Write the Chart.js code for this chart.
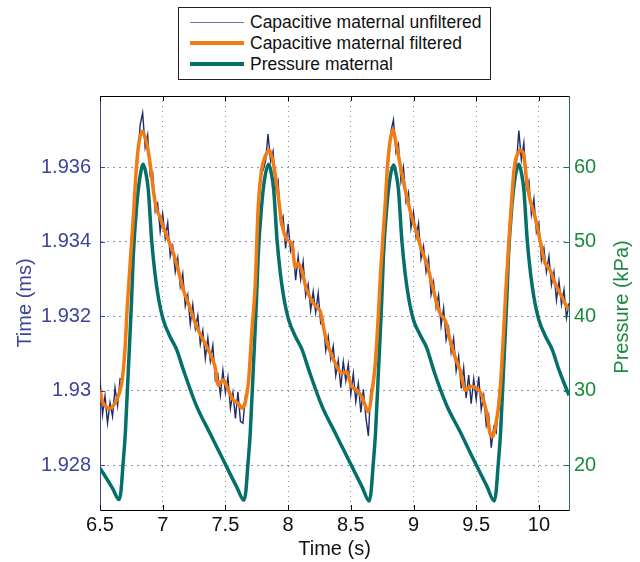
<!DOCTYPE html>
<html>
<head>
<meta charset="utf-8">
<script src="https://cdn.jsdelivr.net/npm/chart.js@4.4.0/dist/chart.umd.min.js"></script>
<style>
  body { margin: 0; background: #fff; }
  #wrap { position: relative; width: 640px; height: 562px; }
  #legend {
    position: absolute; left: 178px; top: 7px; width: 311px; height: 71px;
    border: 1px solid #222; background: #fff;
    font-family: "Liberation Sans", Arial, sans-serif; font-size: 17.5px; color: #111;
  }
  .row { position: absolute; left: 0; right: 0; height: 21px; }
  .swatch { position: absolute; left: 11px; width: 54px; top: 50%; }
  .lbl { position: absolute; left: 71px; top: 0; line-height: 21px; white-space: nowrap; }
</style>
</head>
<body>
<div id="wrap">
  <canvas id="chart" width="640" height="562"></canvas>
  <div id="legend"></div>
</div>
<script>
// unfiltered capacitive signal, sampled every 0.02 s from 6.5 s
const rawStart = 6.5;
const rawStep = 0.02;
const rawCap = [
  1.93032, 1.92936, 1.92986, 1.92913, 1.92968, 1.92931, 1.93008, 1.92960, 1.93032, 1.93029,
  1.93123, 1.93232, 1.93351, 1.93428, 1.93557, 1.93618, 1.93713, 1.93746, 1.93653, 1.93686,
  1.93578, 1.93586, 1.93482, 1.93502, 1.93427, 1.93475, 1.93409, 1.93451, 1.93361, 1.93388,
  1.93319, 1.93356, 1.93280, 1.93314, 1.93227, 1.93257, 1.93178, 1.93231, 1.93167, 1.93202,
  1.93125, 1.93162, 1.93087, 1.93142, 1.93080, 1.93122, 1.93029, 1.93044, 1.92988, 1.93055,
  1.92995, 1.93037, 1.92953, 1.92995, 1.92926, 1.92997, 1.92918, 1.92913, 1.92989, 1.92999,
  1.93112, 1.93191, 1.93317, 1.93468, 1.93575, 1.93592, 1.93615, 1.93689, 1.93617, 1.93643,
  1.93543, 1.93564, 1.93451, 1.93468, 1.93382, 1.93448, 1.93375, 1.93396, 1.93297, 1.93360,
  1.93299, 1.93346, 1.93255, 1.93286, 1.93216, 1.93266, 1.93210, 1.93262, 1.93181, 1.93189,
  1.93108, 1.93146, 1.93085, 1.93120, 1.93041, 1.93082, 1.93008, 1.93078, 1.93027, 1.93071,
  1.92991, 1.93046, 1.92971, 1.93019, 1.92942, 1.93004, 1.92929, 1.92879, 1.93003, 1.93014,
  1.93109, 1.93198, 1.93342, 1.93417, 1.93545, 1.93615, 1.93696, 1.93727, 1.93640, 1.93661,
  1.93562, 1.93600, 1.93507, 1.93532, 1.93437, 1.93479, 1.93412, 1.93449, 1.93354, 1.93388,
  1.93319, 1.93355, 1.93258, 1.93292, 1.93224, 1.93257, 1.93174, 1.93222, 1.93136, 1.93169,
  1.93103, 1.93141, 1.93053, 1.93093, 1.93006, 1.93062, 1.92981, 1.93042, 1.92965, 1.93032,
  1.92977, 1.93038, 1.92949, 1.92987, 1.92907, 1.92934, 1.92847, 1.92903, 1.92888, 1.92988,
  1.93041, 1.93176, 1.93276, 1.93409, 1.93488, 1.93588, 1.93606, 1.93698, 1.93620, 1.93665,
  1.93542, 1.93563, 1.93473, 1.93515, 1.93426, 1.93449, 1.93350, 1.93383, 1.93319, 1.93361,
  1.93284, 1.93319, 1.93243, 1.93294, 1.93231, 1.93271, 1.93195, 1.93235
];

// filtered capacitive signal
const filtT = [
  6.500, 6.526, 6.580, 6.633, 6.673, 6.699, 6.718, 6.766, 6.793, 6.819,
  6.840, 6.872, 6.899, 6.925, 6.952, 6.978, 7.005, 7.045, 7.085, 7.124,
  7.164, 7.204, 7.271, 7.324, 7.377, 7.417, 7.443, 7.483, 7.523, 7.563,
  7.603, 7.630, 7.656, 7.683, 7.710, 7.736, 7.762, 7.789, 7.816, 7.850,
  7.882, 7.922, 7.949, 7.989, 8.029, 8.055, 8.081, 8.108, 8.148, 8.201,
  8.254, 8.281, 8.321, 8.388, 8.427, 8.467, 8.507, 8.547, 8.587, 8.640,
  8.667, 8.693, 8.719, 8.740, 8.773, 8.799, 8.834, 8.866, 8.906, 8.946,
  8.986, 9.026, 9.065, 9.105, 9.145, 9.185, 9.211, 9.251, 9.291, 9.331,
  9.371, 9.411, 9.451, 9.504, 9.544, 9.584, 9.610, 9.632, 9.658, 9.684,
  9.703, 9.722, 9.743, 9.783, 9.809, 9.849, 9.876, 9.902, 9.929, 9.969,
  10.009, 10.049, 10.089, 10.128, 10.168, 10.208, 10.238
];
const filtCap = [
  1.93002, 1.92966, 1.92953, 1.92975, 1.93020, 1.93110, 1.93230, 1.93467, 1.93611, 1.93682,
  1.93696, 1.93664, 1.93611, 1.93539, 1.93485, 1.93467, 1.93440, 1.93405, 1.93369, 1.93324,
  1.93271, 1.93235, 1.93172, 1.93136, 1.93101, 1.93065, 1.93015, 1.93029, 1.93002, 1.92975,
  1.92966, 1.92953, 1.92966, 1.93020, 1.93154, 1.93271, 1.93494, 1.93593, 1.93628, 1.93646,
  1.93611, 1.93521, 1.93450, 1.93405, 1.93396, 1.93333, 1.93342, 1.93324, 1.93271, 1.93235,
  1.93215, 1.93172, 1.93118, 1.93065, 1.93047, 1.93051, 1.93011, 1.93002, 1.92984, 1.92944,
  1.92993, 1.93065, 1.93200, 1.93330, 1.93494, 1.93628, 1.93700, 1.93655, 1.93584, 1.93521,
  1.93467, 1.93423, 1.93378, 1.93342, 1.93289, 1.93235, 1.93208, 1.93190, 1.93136, 1.93091,
  1.93056, 1.93002, 1.93011, 1.93007, 1.92989, 1.92940, 1.92886, 1.92877, 1.92913, 1.92975,
  1.93065, 1.93180, 1.93306, 1.93512, 1.93611, 1.93646, 1.93638, 1.93566, 1.93512, 1.93467,
  1.93405, 1.93342, 1.93324, 1.93289, 1.93262, 1.93235, 1.93217
];

// maternal pressure (kPa)
const presT = [
  6.500, 6.550, 6.600, 6.652, 6.667, 6.682, 6.702, 6.727, 6.752, 6.765,
  6.792, 6.819, 6.845, 6.865, 6.885, 6.912, 6.938, 6.965, 7.005, 7.058,
  7.112, 7.165, 7.271, 7.377, 7.483, 7.590, 7.648,
  7.663, 7.678, 7.698, 7.723, 7.748, 7.761, 7.788, 7.815, 7.845, 7.865,
  7.885, 7.912, 7.938, 7.965, 8.005, 8.058, 8.112, 8.165, 8.271, 8.377,
  8.483, 8.590, 8.647,
  8.662, 8.677, 8.697, 8.722, 8.747, 8.760, 8.787, 8.814, 8.840, 8.860,
  8.880, 8.907, 8.933, 8.960, 9.000, 9.053, 9.107, 9.160, 9.266, 9.372,
  9.478, 9.585, 9.644,
  9.659, 9.674, 9.694, 9.719, 9.744, 9.757, 9.784, 9.811, 9.840, 9.860,
  9.880, 9.907, 9.933, 9.960, 10.000, 10.053, 10.107, 10.160, 10.240
];
const presKPa = [
  19.6, 18.3, 16.9, 15.4, 16.5, 19.8, 24.3, 33.2, 42.2, 48.0,
  54.7, 58.7, 60.4, 59.3, 57.0, 50.2, 45.8, 42.6, 39.5, 37.3,
  35.5, 32.8, 27.9, 24.3, 20.7, 17.1, 15.3,
  16.5, 19.8, 24.3, 33.2, 42.2, 48.0, 54.7, 58.7, 60.4, 59.3,
  57.0, 50.2, 45.8, 42.6, 39.5, 37.3, 35.5, 32.8, 27.9, 24.3,
  20.7, 17.1, 15.2,
  16.5, 19.8, 24.3, 33.2, 42.2, 48.0, 54.7, 58.7, 60.3, 59.2,
  57.0, 50.2, 45.8, 42.6, 39.5, 37.5, 35.7, 32.8, 28.0, 24.5,
  20.8, 17.2, 15.2,
  16.5, 19.8, 24.3, 33.2, 42.2, 48.0, 54.7, 58.7, 60.4, 59.3,
  57.0, 50.2, 45.8, 42.6, 39.5, 37.3, 35.5, 32.8, 29.4
];

// ticks
const xTicks = [6.5, 7, 7.5, 8, 8.5, 9, 9.5, 10];
const xTickLabels = ['6.5', '7', '7.5', '8', '8.5', '9', '9.5', '10'];
const capTicks = [1.928, 1.930, 1.932, 1.934, 1.936];
const capTickLabels = ['1.928', '1.93', '1.932', '1.934', '1.936'];
const presTicks = [20, 30, 40, 50, 60];
const presTickLabels = ['20', '30', '40', '50', '60'];

const FONT = '"Liberation Sans", Arial, Helvetica, sans-serif';
const BLUE = '#3d4596';
const GREEN = '#1a8a3e';
const TEAL_AXIS = '#1f6f5f';

const rawPoints = rawCap.map((v, i) => ({ x: +(rawStart + i * rawStep).toFixed(2), y: v }));
const filtPoints = filtT.map((t, i) => ({ x: t, y: filtCap[i] }));
const presPoints = presT.map((t, i) => ({ x: t, y: presKPa[i] }));

// inward tick marks, top frame line and the right axis title
const frameTicks = {
  id: 'frameTicks',
  afterDraw(chart) {
    const { ctx, chartArea: a, scales } = chart;
    ctx.save();
    ctx.lineWidth = 1;
    ctx.strokeStyle = '#000';
    ctx.beginPath();
    ctx.moveTo(a.left, a.top + 0.5);
    ctx.lineTo(a.right, a.top + 0.5);
    xTicks.forEach(v => {
      const px = Math.round(scales.x.getPixelForValue(v)) + 0.5;
      ctx.moveTo(px, a.bottom); ctx.lineTo(px, a.bottom - 5);
      ctx.moveTo(px, a.top); ctx.lineTo(px, a.top + 5);
    });
    ctx.stroke();
    ctx.strokeStyle = BLUE;
    ctx.beginPath();
    capTicks.forEach(v => {
      const py = Math.round(scales.y.getPixelForValue(v)) + 0.5;
      ctx.moveTo(a.left, py); ctx.lineTo(a.left + 5, py);
    });
    ctx.stroke();
    ctx.strokeStyle = TEAL_AXIS;
    ctx.beginPath();
    presTicks.forEach(v => {
      const py = Math.round(scales.y1.getPixelForValue(v)) + 0.5;
      ctx.moveTo(a.right, py); ctx.lineTo(a.right - 5, py);
    });
    ctx.stroke();

    // right axis title reads bottom-to-top like the left one
    ctx.translate(scales.y1.right - 18, (a.top + a.bottom) / 2 + 4);
    ctx.rotate(-Math.PI / 2);
    ctx.font = '20px ' + FONT;
    ctx.fillStyle = GREEN;
    ctx.textAlign = 'center';
    ctx.textBaseline = 'middle';
    ctx.fillText('Pressure (kPa)', 0, 0);
    ctx.restore();
  }
};

const chart = new Chart(document.getElementById('chart'), {
  type: 'line',
  data: {
    datasets: [
      {
        label: 'Capacitive maternal unfiltered',
        data: rawPoints,
        yAxisID: 'y',
        borderColor: '#1f2b6b',
        borderWidth: 1.4,
        pointRadius: 0,
        tension: 0,
        order: 2
      },
      {
        label: 'Capacitive maternal filtered',
        data: filtPoints,
        yAxisID: 'y',
        borderColor: '#f27b13',
        borderWidth: 3.5,
        pointRadius: 0,
        tension: 0.3,
        order: 0
      },
      {
        label: 'Pressure maternal',
        data: presPoints,
        yAxisID: 'y1',
        borderColor: '#05706a',
        borderWidth: 3.5,
        pointRadius: 0,
        cubicInterpolationMode: 'monotone',
        order: 1
      }
    ]
  },
  options: {
    responsive: false,
    animation: false,
    layout: { padding: { top: 96, left: 0, right: 0, bottom: 0 } },
    plugins: { legend: { display: false }, tooltip: { enabled: false } },
    scales: {
      x: {
        type: 'linear',
        min: 6.5,
        max: 10.24,
        afterFit: s => { s.height = 52; },
        afterBuildTicks: s => { s.ticks = xTicks.map(v => ({ value: v })); },
        ticks: {
          callback: (v, i) => xTickLabels[i],
          color: '#111',
          font: { family: FONT, size: 20 },
          padding: 3,
          maxRotation: 0
        },
        grid: { color: '#8c8c8c', lineWidth: 1, drawTicks: false },
        border: { color: '#000', width: 1, dash: [1, 4] },
        title: {
          display: true,
          text: 'Time (s)',
          color: '#111',
          font: { family: FONT, size: 20 },
          padding: { top: 0, bottom: 1 }
        }
      },
      y: {
        position: 'left',
        min: 1.9268,
        max: 1.93791,
        afterFit: s => { s.width = 100; },
        afterBuildTicks: s => { s.ticks = capTicks.map(v => ({ value: v })); },
        ticks: {
          callback: (v, i) => capTickLabels[i],
          color: BLUE,
          font: { family: FONT, size: 20 },
          padding: 9
        },
        grid: { color: '#9094cc', lineWidth: 1, drawTicks: false },
        border: { color: BLUE, width: 1, dash: [2, 4] },
        title: {
          display: true,
          text: 'Time (ms)',
          color: BLUE,
          font: { family: FONT, size: 20 },
          padding: { top: 13, bottom: 0 }
        }
      },
      y1: {
        position: 'right',
        min: 14.0,
        max: 69.57,
        afterFit: s => { s.width = 71; },
        afterBuildTicks: s => { s.ticks = presTicks.map(v => ({ value: v })); },
        ticks: {
          callback: (v, i) => presTickLabels[i],
          color: GREEN,
          font: { family: FONT, size: 20 },
          padding: 5
        },
        grid: { display: false, drawTicks: false },
        border: { color: TEAL_AXIS, width: 1 }
      }
    }
  },
  plugins: [frameTicks]
});

// legend built from the datasets
const legend = document.getElementById('legend');
chart.data.datasets.forEach((ds, i) => {
  const row = document.createElement('div');
  row.className = 'row';
  row.style.top = (3.5 + i * 21) + 'px';
  const sw = document.createElement('div');
  sw.className = 'swatch';
  const w = ds.borderWidth > 2 ? 4 : 1;
  sw.style.height = w + 'px';
  sw.style.marginTop = (-w / 2) + 'px';
  sw.style.background = ds.borderWidth > 2 ? ds.borderColor : '#6f78a0';
  const lbl = document.createElement('div');
  lbl.className = 'lbl';
  lbl.textContent = ds.label;
  row.appendChild(sw);
  row.appendChild(lbl);
  legend.appendChild(row);
});
</script>
</body>
</html>
